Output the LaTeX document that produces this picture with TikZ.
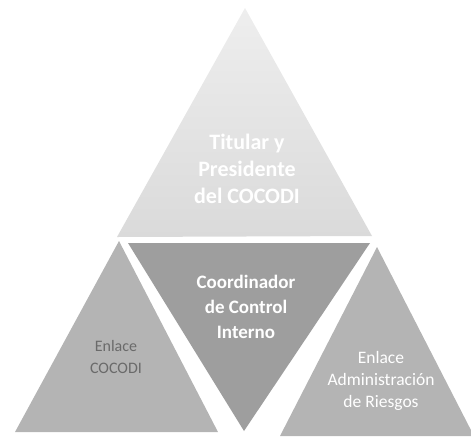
\documentclass[tikz,border=0pt]{standalone}
\usepackage{fontspec}
\setmainfont{Carlito}
\definecolor{TopGray}{HTML}{DADADA}
\definecolor{TopLight}{HTML}{EEEEEE}
\definecolor{MidGray}{HTML}{9E9E9E}
\definecolor{SideGray}{HTML}{B4B4B4}
\definecolor{TextDark}{HTML}{6A6A6A}
\usetikzlibrary{positioning}

\begin{document}
\begin{tikzpicture}[x=1pt, y=-1pt,
      piece/.style={draw=none},
      label/.style={align=center, inner sep=0pt}]
   \useasboundingbox (0,0) rectangle (471,440);
   % Titular (top)
   \shade[piece, top color=TopLight, bottom color=TopGray] (245,8) -- (372,236) -- (117,237) -- cycle;
   \node[label, white, font=\fontsize{22}{27}\selectfont\bfseries] (titular) at (247,169)
      {Titular y\\Presidente\\del COCODI};
   % Coordinador (inverted, middle)
   \fill[piece, MidGray] (128,243) -- (370,243) -- (244,431) -- cycle;
   \node[label, white, font=\fontsize{19}{25}\selectfont\bfseries] (coordinador) at (246,307)
      {Coordinador\\de Control\\Interno};
   % Enlace COCODI (left)
   \fill[piece, SideGray] (119,241) -- (218,432) -- (15,432) -- cycle;
   \node[label, TextDark, font=\fontsize{16}{22}\selectfont] (enlaceCocodi) at (116,357)
      {Enlace\\COCODI};
   % Enlace Administracion de Riesgos (right)
   \fill[piece, SideGray] (377,247) -- (474,436) -- (280,436) -- cycle;
   \node[label, white, font=\fontsize{17.5}{22}\selectfont] (enlaceRiesgos) at (381,381)
      {Enlace\\Administración\\de Riesgos};
\end{tikzpicture}
\end{document}
